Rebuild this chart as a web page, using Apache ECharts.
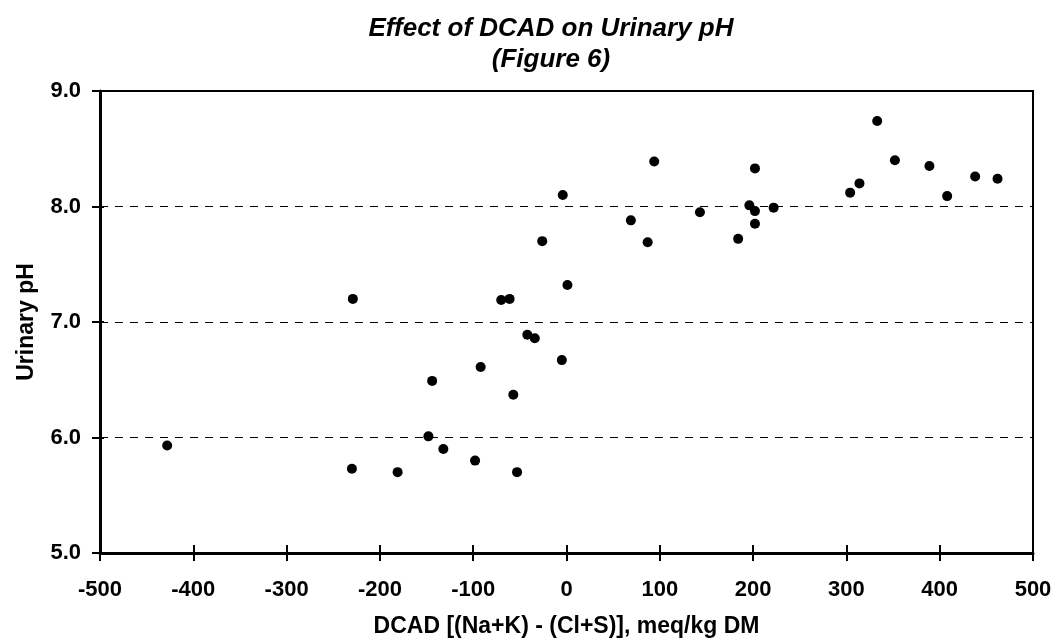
<!DOCTYPE html>
<html lang="en">
<head>
<meta charset="UTF-8">
<script src="https://cdn.jsdelivr.net/npm/echarts@6/dist/echarts.min.js"></script>
<title>Effect of DCAD on Urinary pH</title>
<style>
  html, body { margin: 0; padding: 0; background: #fff; }
  #tu { width: 1055px; height: 643px; }
</style>
</head>
<body>
<div id="tu"></div>
<script type="text/javascript">
    // DCAD values (meq/kg DM) and urinary pH
    var dcad = [-428, -229, -230, -181, -148, -144, -132, -98, -92, -70, -61, -57, -53, -42, -34, -26, -4, -5, 1,
                69, 87, 94, 143, 184, 196, 202, 202, 202, 222, 304, 314, 333, 352, 389, 408, 438, 462];
    var urinePH = [5.93, 7.20, 5.73, 5.70, 6.01, 6.49, 5.90, 5.80, 6.61, 7.19, 7.20, 6.37, 5.70, 6.89, 6.86, 7.70, 8.10, 6.67, 7.32,
                   7.88, 7.69, 8.39, 7.95, 7.72, 8.01, 7.96, 8.33, 7.85, 7.99, 8.12, 8.20, 8.74, 8.40, 8.35, 8.09, 8.26, 8.24];
    var xTicks = [-500, -400, -300, -200, -100, 0, 100, 200, 300, 400, 500];
    var yTicks = [5, 6, 7, 8, 9];

    var points = dcad.map(function (x, i) { return [x, urinePH[i]]; });
    var font = 'Liberation Sans, Arial, sans-serif';
    var xMin = xTicks[0], xMax = xTicks[xTicks.length - 1];
    var yMin = yTicks[0], yMax = yTicks[yTicks.length - 1];

    var thisChart = echarts.init(document.getElementById('tu'));
    var option = {
        backgroundColor: '#fff',
        animation: false,
        title: {
            text: 'Effect of DCAD on Urinary pH\n(Figure 6)',
            left: 546,
            textAlign: 'center',
            top: 8,
            textStyle: {
                fontFamily: font, fontSize: 26, fontWeight: 'bold', fontStyle: 'italic',
                color: '#000', lineHeight: 31
            }
        },
        grid: {
            left: 100, right: 22, top: 91, bottom: 88,
            show: true, borderColor: '#000', borderWidth: 2, backgroundColor: '#fff'
        },
        xAxis: [{
            type: 'value',
            min: xMin, max: xMax, interval: 100,
            name: 'DCAD [(Na+K) - (Cl+S)], meq/kg DM',
            nameLocation: 'middle', nameGap: 62,
            nameTextStyle: { fontFamily: font, fontSize: 23, fontWeight: 'bold', color: '#000' },
            axisLine: { show: true, onZero: false, lineStyle: { color: '#000', width: 3 } },
            axisTick: { show: true, length: 8, lineStyle: { color: '#000', width: 2 } },
            axisLabel: { fontFamily: font, fontSize: 22, fontWeight: 'bold', color: '#000', margin: 26 },
            splitLine: { show: false }
        }, {
            type: 'value',
            position: 'bottom',
            min: xMin, max: xMax, interval: 100,
            axisLine: { show: false, onZero: false },
            axisTick: { show: true, inside: true, length: 8, lineStyle: { color: '#000', width: 2 } },
            axisLabel: { show: false },
            splitLine: { show: false }
        }],
        yAxis: [{
            type: 'value',
            min: yMin, max: yMax, interval: 1,
            name: 'Urinary pH',
            nameLocation: 'middle', nameGap: 62,
            nameTextStyle: { fontFamily: font, fontSize: 23, fontWeight: 'bold', color: '#000' },
            axisLine: { show: true, onZero: false, lineStyle: { color: '#000', width: 3 } },
            axisTick: { show: true, length: 8, lineStyle: { color: '#000', width: 2 } },
            axisLabel: {
                fontFamily: font, fontSize: 22, fontWeight: 'bold', color: '#000', margin: 19,
                formatter: function (v) { return v.toFixed(1); }
            },
            splitLine: { show: true, lineStyle: { color: '#000', width: 1, type: [8, 7] } }
        }, {
            type: 'value',
            position: 'left',
            min: yMin, max: yMax, interval: 1,
            axisLine: { show: false, onZero: false },
            axisTick: { show: true, inside: true, length: 4, lineStyle: { color: '#000', width: 2 } },
            axisLabel: { show: false },
            splitLine: { show: false }
        }],
        series: [{
            type: 'scatter',
            data: points,
            symbol: 'circle',
            symbolSize: 10,
            itemStyle: { color: '#000', opacity: 1 }
        }]
    };
    thisChart.setOption(option);
</script>
</body>
</html>
